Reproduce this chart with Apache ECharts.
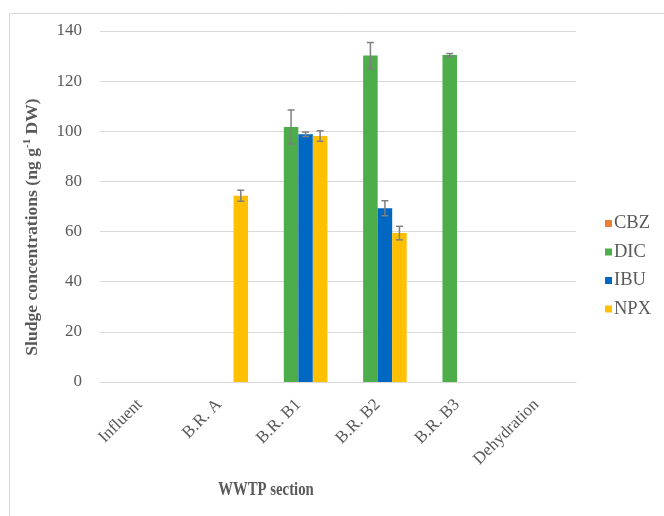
<!DOCTYPE html>
<html>
<head>
<meta charset="utf-8">
<script src="https://cdn.jsdelivr.net/npm/echarts@6/dist/echarts.min.js"></script>
<style>
  html, body { margin: 0; padding: 0; background: #ffffff; }
  #chart { width: 664px; height: 516px; }
</style>
</head>
<body>
<div id="chart"></div>
<script>
// WWTP sections along the x axis
const sections = ['Influent', 'B.R. A', 'B.R. B1', 'B.R. B2', 'B.R. B3', 'Dehydration'];

// Mean sludge concentrations (ng g-1 DW); null = not detected
const cbz = [null, null, null, null, null, null];
const dic = [null, null, 101.7, 130.2, 130.4, null];
const ibu = [null, null, 98.8, 69.3, null, null];
const npx = [null, 74.3, 98.1, 59.4, null, null];

// Standard deviations for the error bars
const cbzErr = [null, null, null, null, null, null];
const dicErr = [null, null, 6.8, 5.2, 0.6, null];
const ibuErr = [null, null, 0.9, 3.0, null, null];
const npxErr = [null, 2.2, 2.1, 2.7, null, null];

const yTicks = { min: 0, max: 140, step: 20 };

const names = ['CBZ', 'DIC', 'IBU', 'NPX'];
const colors = ['#ED7D31', '#4CAD4A', '#0068C2', '#FFC000'];
const means = [cbz, dic, ibu, npx];
const errs = [cbzErr, dicErr, ibuErr, npxErr];

const CATEGORY_GAP = 0.268;
const serif = '"Liberation Serif", "Times New Roman", serif';
const textGray = '#595959';

const chart = echarts.init(document.getElementById('chart'), null, { renderer: 'canvas' });

const barSeries = names.map((n, i) => ({
  name: n,
  type: 'bar',
  data: means[i],
  barGap: '0%',
  barCategoryGap: (CATEGORY_GAP * 100) + '%',
  itemStyle: { color: colors[i] },
  emphasis: { disabled: true }
}));

// Error bars drawn at the same slot as each bar of the group
const errorSeries = names.map((n, i) => ({
  name: n + ' sd',
  type: 'custom',
  data: sections.map((s, k) => [k, means[i][k], errs[i][k]]).filter(d => d[1] != null && d[2] != null),
  z: 10,
  silent: true,
  renderItem: function (params, api) {
    const k = api.value(0);
    const m = api.value(1);
    const e = api.value(2);
    const band = api.size([1, 0])[0];
    const barW = band * (1 - CATEGORY_GAP) / names.length;
    const off = (i - (names.length - 1) / 2) * barW;
    const hi = api.coord([k, m + e]);
    const lo = api.coord([k, m - e]);
    const x = hi[0] + off;
    const cap = 3.5;
    const style = { stroke: '#7F7F7F', lineWidth: 1.5 };
    return {
      type: 'group',
      children: [
        { type: 'line', shape: { x1: x, y1: hi[1], x2: x, y2: lo[1] }, style: style },
        { type: 'line', shape: { x1: x - cap, y1: hi[1], x2: x + cap, y2: hi[1] }, style: style },
        { type: 'line', shape: { x1: x - cap, y1: lo[1], x2: x + cap, y2: lo[1] }, style: style }
      ]
    };
  }
}));

chart.setOption({
  animation: false,
  backgroundColor: '#ffffff',
  grid: { left: 100, right: 88, top: 31, bottom: 134 },
  legend: {
    data: names,
    orient: 'vertical',
    left: 600,
    top: 209,
    icon: 'rect',
    itemWidth: 7,
    itemHeight: 7,
    itemGap: 9.5,
    selectedMode: false,
    textStyle: { fontFamily: serif, fontSize: 18.5, color: textGray, padding: [0, 0, 0, -3] }
  },
  xAxis: {
    type: 'category',
    data: sections,
    axisLine: { lineStyle: { color: '#D9D9D9', width: 1 } },
    axisTick: { show: false },
    axisLabel: {
      rotate: 45,
      margin: 20,
      interval: 0,
      fontFamily: serif,
      fontSize: 17,
      color: textGray
    }
  },
  yAxis: {
    type: 'value',
    min: yTicks.min,
    max: yTicks.max,
    interval: yTicks.step,
    axisLine: { show: false },
    axisTick: { show: false },
    splitLine: { lineStyle: { color: '#D9D9D9', width: 1 } },
    axisLabel: { fontFamily: serif, fontSize: 17, color: textGray, margin: 18 }
  },
  graphic: [
    {
      type: 'rect',
      silent: true,
      shape: { x: 9.5, y: 13.5, width: 800, height: 700 },
      style: { fill: 'none', stroke: '#D9D9D9', lineWidth: 1 },
      z: -10
    },
    {
      // y axis title
      type: 'text',
      silent: true,
      x: 32,
      y: 227,
      rotation: Math.PI / 2,
      style: {
        text: 'Sludge concentrations (ng g{sup|-1} DW)',
        align: 'center',
        verticalAlign: 'middle',
        fontFamily: serif,
        fontSize: 17.6,
        fontWeight: 'bold',
        fill: textGray,
        rich: {
          sup: { fontFamily: serif, fontSize: 11, fontWeight: 'bold', fill: textGray, padding: [0, 0, 9, 0] }
        }
      }
    },
    {
      // x axis title
      type: 'text',
      silent: true,
      x: 266,
      y: 490,
      scaleX: 0.82,
      style: {
        text: 'WWTP section',
        align: 'center',
        verticalAlign: 'middle',
        fontFamily: serif,
        fontSize: 18,
        fontWeight: 'bold',
        fill: textGray
      }
    }
  ],
  series: barSeries.concat(errorSeries)
});
</script>
</body>
</html>
